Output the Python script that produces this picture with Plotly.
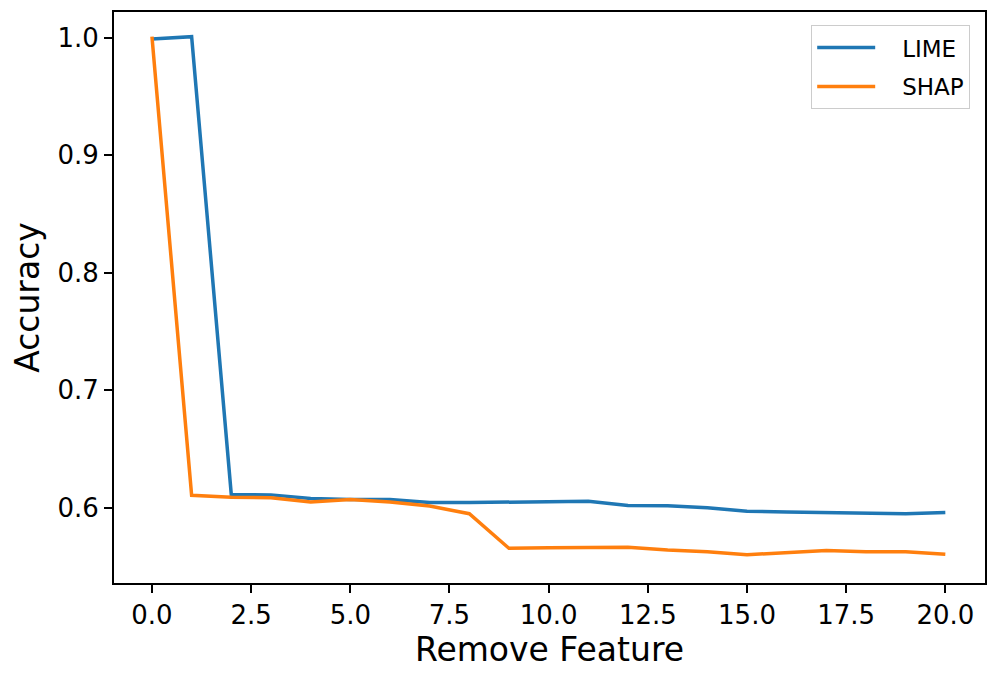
import plotly.graph_objects as go

remove_feature = list(range(0, 21))
lime_acc = [0.999, 1.001, 0.6112, 0.611, 0.608, 0.607, 0.607, 0.6045, 0.6045, 0.605, 0.6055,
            0.6055, 0.602, 0.6017, 0.600, 0.597, 0.5965, 0.596, 0.596, 0.595, 0.596]
shap_acc = [1.001, 0.6106, 0.609, 0.6085, 0.605, 0.607, 0.605, 0.6015, 0.595, 0.5655, 0.566,
            0.5665, 0.5665, 0.564, 0.5625, 0.560, 0.562, 0.5637, 0.5625, 0.5625, 0.5605]
series_names = ["LIME", "SHAP"]
x_ticks = [0, 2.5, 5, 7.5, 10, 12.5, 15, 17.5, 20]
x_tick_labels = ["0.0", "2.5", "5.0", "7.5", "10.0", "12.5", "15.0", "17.5", "20.0"]
y_ticks = [0.6, 0.7, 0.8, 0.9, 1.0]
y_tick_labels = ["0.6", "0.7", "0.8", "0.9", "1.0"]

pad = "\u00a0\u00a0\u00a0"
fig = go.Figure()
fig.add_trace(go.Scatter(x=remove_feature, y=lime_acc, mode="lines", name=pad + series_names[0],
                         legendgroup="a", line=dict(color="#1f77b4", width=3.5)))
fig.add_trace(go.Scatter(x=remove_feature, y=shap_acc, mode="lines", name=pad + series_names[1],
                         legendgroup="b", line=dict(color="#ff7f0e", width=3.5)))

font = "DejaVu Sans"
fig.update_layout(
    width=995, height=678,
    margin=dict(l=106, r=18, t=2, b=103),
    paper_bgcolor="white", plot_bgcolor="white",
    font=dict(family=font, color="black", size=20),
    showlegend=True,
    legend=dict(x=0.983, y=0.977, xanchor="right", yanchor="top",
                bordercolor="#cccccc", borderwidth=1, bgcolor="white",
                traceorder="grouped", tracegroupgap=6,
                font=dict(size=23, family=font), itemwidth=58),
    xaxis=dict(range=[-0.957, 21.0], tickvals=x_ticks, ticktext=x_tick_labels,
               showgrid=False, zeroline=False, showline=True, linecolor="black",
               linewidth=2, mirror=True, ticks="outside", ticklen=8, tickwidth=1.5,
               tickcolor="black", tickfont=dict(size=26),
               title=dict(text="Remove Feature", font=dict(size=33), standoff=8)),
    yaxis=dict(range=[0.536, 1.022], tickvals=y_ticks, ticktext=y_tick_labels,
               showgrid=False, zeroline=False, showline=True, linecolor="black",
               linewidth=2, mirror=True, ticks="outside", ticklen=8, tickwidth=1.5,
               tickcolor="black", tickfont=dict(size=26),
               title=dict(text="Accuracy", font=dict(size=33), standoff=13)),
)

fig.write_html("out.html")
